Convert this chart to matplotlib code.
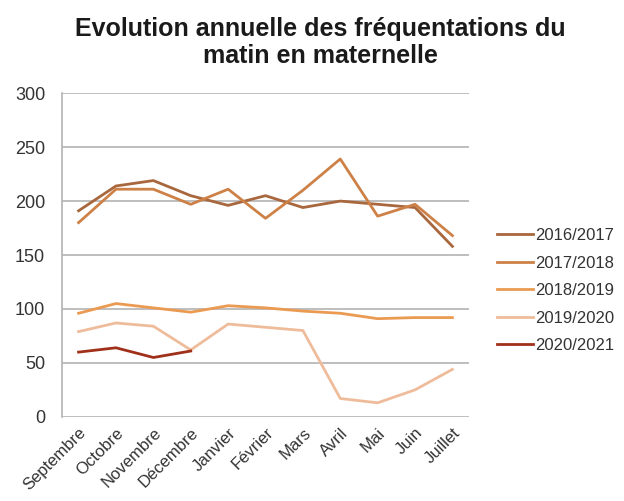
import matplotlib
matplotlib.use("Agg")
from matplotlib import pyplot as plt

plt.rcParams['font.family'] = ['Liberation Sans', 'DejaVu Sans']

mois = ['Septembre', 'Octobre', 'Novembre', 'Décembre', 'Janvier', 'Février',
        'Mars', 'Avril', 'Mai', 'Juin', 'Juillet']

annees = ['2016/2017', '2017/2018', '2018/2019', '2019/2020', '2020/2021']

v_2016 = [191, 214, 219, 205, 196, 205, 194, 200, 197, 194, 158]
v_2017 = [180, 211, 211, 197, 211, 184, 210, 239, 186, 197, 168]
v_2018 = [96, 105, 101, 97, 103, 101, 98, 96, 91, 92, 92]
v_2019 = [79, 87, 84, 62, 86, 83, 80, 17, 13, 25, 44]
v_2020 = [60, 64, 55, 61]

couleurs = ['#a8673d', '#cd8147', '#eb9a52', '#efbc9b', '#a0301a']

fig = plt.figure(figsize=(6.24, 5.01), dpi=100)
ax = fig.add_axes([0.099, 0.168, 0.653, 0.646])

series = [v_2016, v_2017, v_2018, v_2019, v_2020]
x = list(range(len(mois)))
for nom, vals, c in zip(annees, series, couleurs):
    ax.plot(x[:len(vals)], vals, color=c, lw=2.0, label=nom)

ax.set_xlim(-0.45, len(mois) - 0.55)
ax.set_ylim(0, 300)
ax.set_yticks(range(0, 301, 50))
ax.set_xticks(x)
ax.set_xticklabels(mois, rotation=45, ha='right', rotation_mode='anchor')
ax.grid(axis='y', color='#b3b3b3', lw=1.2)
ax.set_axisbelow(True)
for s in ['top', 'right', 'bottom']:
    ax.spines[s].set_visible(False)
ax.spines['left'].set_color('#b3b3b3')
ax.spines['left'].set_linewidth(1.2)
ax.tick_params(axis='both', length=0, labelsize=13, colors='#333333')
ax.tick_params(axis='x', labelsize=12, pad=6)
ax.tick_params(axis='y', pad=12)

fig.text(0.513, 0.966, 'Evolution annuelle des fréquentations du\nmatin en maternelle',
         ha='center', va='top', fontsize=18, fontweight='bold', color='#1a1a1a',
         linespacing=1.15)

ax.legend(loc='center left', bbox_to_anchor=(0.772, 0.42),
          bbox_transform=fig.transFigure, frameon=False, fontsize=12,
          handlelength=2.2, handletextpad=0.1, labelspacing=0.75,
          labelcolor='#333333')

fig.savefig('out.png', dpi=100)
